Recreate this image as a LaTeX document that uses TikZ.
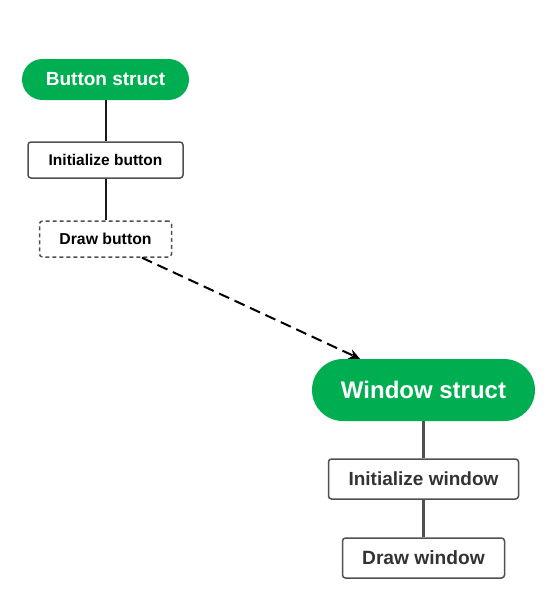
\documentclass[tikz,border=0pt]{standalone}
\usepackage{fontspec}
\setmainfont{Liberation Sans}
\usetikzlibrary{arrows.meta}
\definecolor{pillgreen}{HTML}{00AE52}
\definecolor{boxgray}{HTML}{505050}
\definecolor{txtdark}{HTML}{333333}
\tikzset{
  pill/.style={fill=pillgreen, draw=none, text=white, font=\bfseries, inner sep=0pt, align=center},
  stepbox/.style={draw=boxgray, line width=1.5pt, rounded corners=3pt, fill=white, inner sep=0pt, font=\bfseries},
  thinlink/.style={draw=black!90, line width=2pt},
  thicklink/.style={draw=boxgray, line width=3pt},
}
\begin{document}
\begin{tikzpicture}[x=1pt,y=-1pt]
\useasboundingbox (0,0) rectangle (556,600);
\fill[white] (0,0) rectangle (556,600);
% Button chain
\node[pill, minimum width=167pt, minimum height=41pt, rounded corners=20.5pt, font=\bfseries\fontsize{19}{22}\selectfont] (bs) at (105.5,79.5) {Button struct};
\node[stepbox, minimum width=155pt, minimum height=36pt, font=\bfseries\fontsize{15.5}{18}\selectfont] (ib) at (105.5,160) {Initialize button};
\node[stepbox, dashed, dash pattern=on 4pt off 3pt, minimum width=132pt, minimum height=36pt, font=\bfseries\fontsize{15.8}{18}\selectfont] (db) at (105.5,239) {Draw button};
\draw[thinlink] (bs.south) -- (ib.north);
\draw[thinlink] (ib.south) -- (db.north);
% Window chain
\node[pill, minimum width=223pt, minimum height=62pt, rounded corners=31pt, font=\bfseries\fontsize{24}{28}\selectfont] (ws) at (423.5,390) {Window struct};
\node[stepbox, text=txtdark, minimum width=190pt, minimum height=40pt, font=\bfseries\fontsize{19}{22}\selectfont] (iw) at (423.5,479) {Initialize window};
\node[stepbox, text=txtdark, minimum width=162pt, minimum height=40pt, font=\bfseries\fontsize{19.2}{22}\selectfont] (dw) at (423.5,558) {Draw window};
\draw[thicklink] (ws.south) -- (iw.north);
\draw[thicklink] (iw.south) -- (dw.north);
% dashed arrow
\draw[line width=2pt, dash pattern=on 11pt off 6pt, -{Stealth[length=11pt,width=10pt]}] ([xshift=36.5pt]db.south) -- ([xshift=-63.5pt]ws.north);
\end{tikzpicture}
\end{document}
